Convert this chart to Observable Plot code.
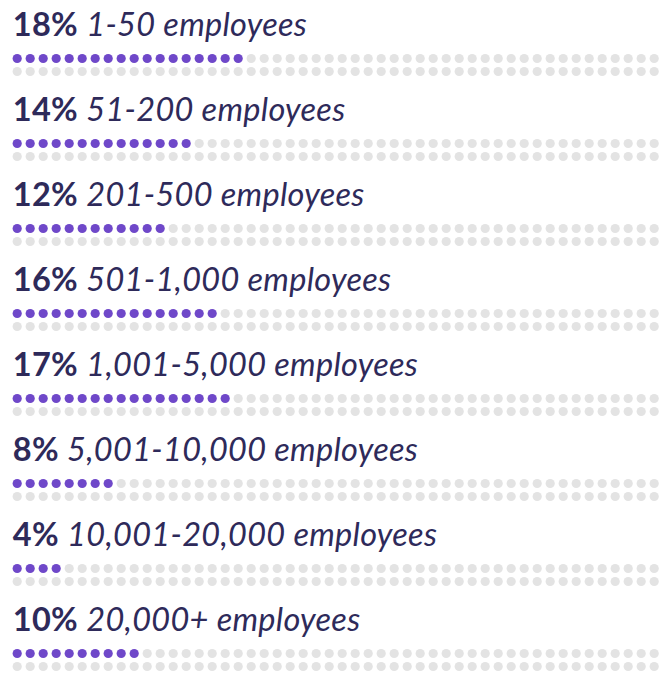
<!DOCTYPE html>
<html>
<head>
<meta charset="utf-8">
<script src="https://cdn.jsdelivr.net/npm/d3@7"></script>
<script src="https://cdn.jsdelivr.net/npm/@observablehq/plot@0.6"></script>
<style>
  html, body { margin: 0; padding: 0; background: #ffffff; }
  #chart svg { display: block; }
</style>
</head>
<body>
<div id="chart"></div>
<script>
const categories = ["1-50 employees", "51-200 employees", "201-500 employees", "501-1,000 employees", "1,001-5,000 employees", "5,001-10,000 employees", "10,001-20,000 employees", "20,000+ employees"];
const percents = [18, 14, 12, 16, 17, 8, 4, 10];
const dotsPerRow = 50;
const dotRows = 2;

const labels = categories.map((c, i) => ({category: c, pct: percents[i]}));
const dots = [];
categories.forEach((c, i) => {
  for (let j = 0; j < dotsPerRow * dotRows; j++) {
    dots.push({category: c, col: j % dotsPerRow, row: Math.floor(j / dotsPerRow), filled: j < percents[i]});
  }
});

const textColor = "#2e2a5a";
const purple = "#6f48c9";
const grey = "#e3e3e3";

const chart = Plot.plot({
  width: 665,
  height: 673,
  marginLeft: 16.7,
  marginRight: 11.3,
  marginTop: 55,
  marginBottom: 16.3,
  x: {type: "linear", domain: [0, dotsPerRow - 1], axis: null},
  y: {type: "point", domain: categories, padding: 0, axis: null},
  color: {domain: [true, false], range: [purple, grey]},
  style: {fontFamily: "Lato, sans-serif"},
  marks: [
    Plot.dot(dots.filter(d => d.row === 0), {x: "col", y: "category", r: 4.6, fill: d => d.filled, stroke: null}),
    Plot.dot(dots.filter(d => d.row === 1), {x: "col", y: "category", r: 4.6, fill: d => d.filled, stroke: null, dy: 13}),
    Plot.text(labels, {x: () => 0, y: "category", text: d => `${d.pct}% ${d.category}`, textAnchor: "start", lineAnchor: "bottom", dx: -4.4, dy: -23, fontSize: 32.5, fill: textColor})
  ]
});

// split each label into a bold percent and an italic category
d3.select(chart).selectAll("text").each(function() {
  const t = this.textContent;
  const m = t.match(/^(\d+%)\s(.*)$/);
  if (!m) return;
  const sel = d3.select(this);
  sel.text(null).attr("letter-spacing", "0.3px");
  sel.append("tspan").attr("font-weight", 700).text(m[1] + " ");
  sel.append("tspan").attr("font-style", "italic").attr("font-weight", 400).text(m[2]);
});

document.getElementById("chart").appendChild(chart);
</script>
</body>
</html>
